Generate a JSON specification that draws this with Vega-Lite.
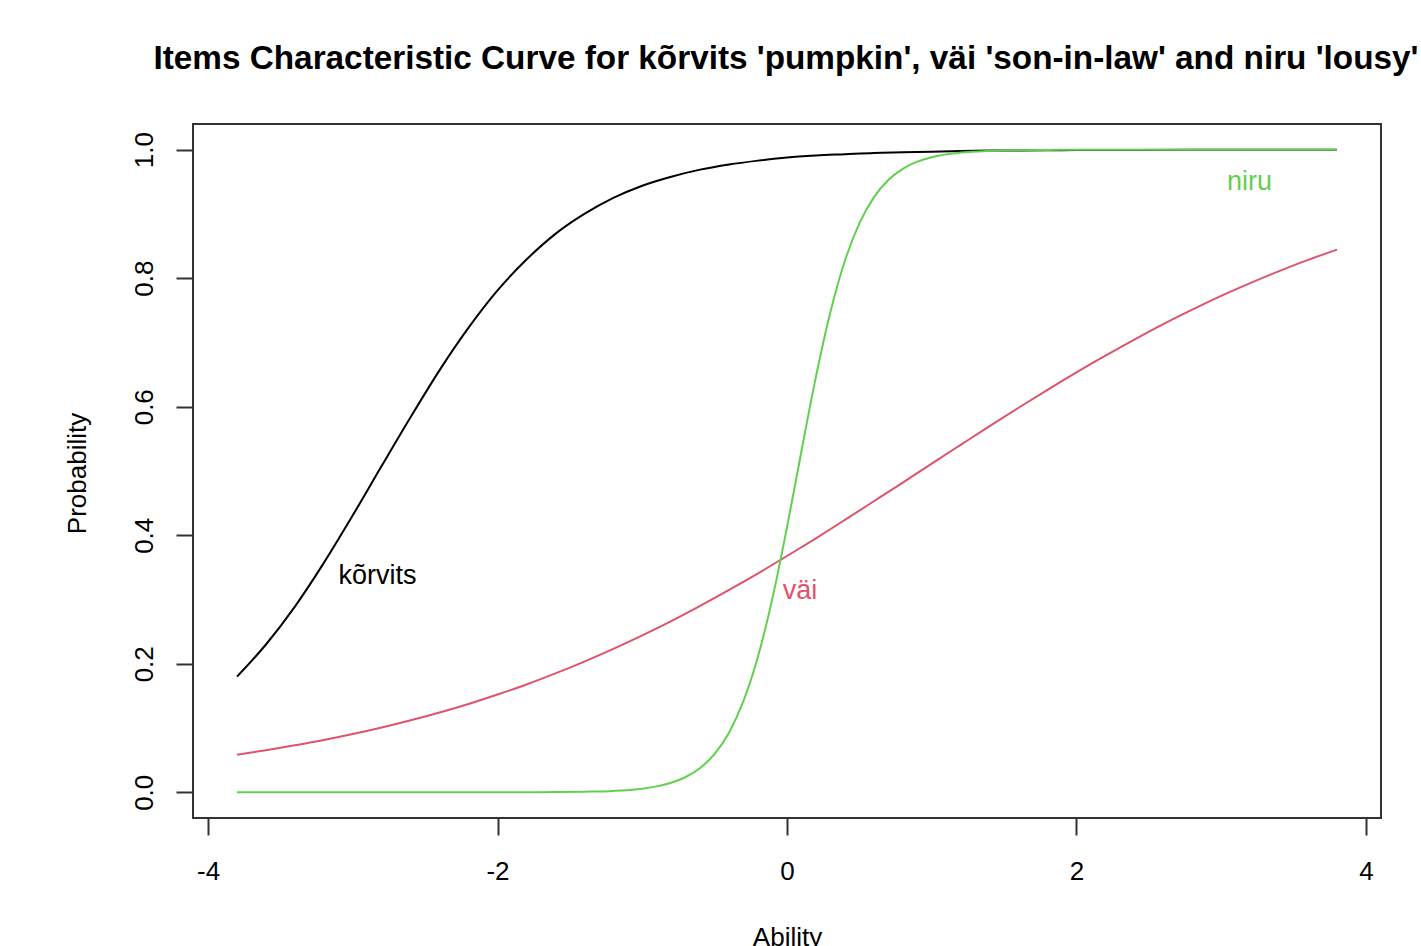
{
  "$schema": "https://vega.github.io/schema/vega-lite/v6.json",
  "width": 1188,
  "height": 694,
  "autosize": {"type": "none"},
  "padding": {"left": 193, "top": 124, "right": 40, "bottom": 128},
  "background": "white",
  "config": {
    "font": "Liberation Sans",
    "view": {"stroke": "#333333", "strokeWidth": 2},
    "title": {"fontSize": 33.3, "fontWeight": "bold", "color": "#000000", "anchor": "middle", "baseline": "alphabetic", "offset": 48, "dx": -1, "font": "Liberation Sans"}
  },
  "title": "Items Characteristic Curve for kõrvits 'pumpkin', väi 'son-in-law' and niru 'lousy'",
  "datasets": {
    "curves": [
      {"item": "kõrvits", "ability": -3.8, "p": 0.180},
      {"item": "kõrvits", "ability": -3.6, "p": 0.230},
      {"item": "kõrvits", "ability": -3.4, "p": 0.289},
      {"item": "kõrvits", "ability": -3.2, "p": 0.357},
      {"item": "kõrvits", "ability": -3.0, "p": 0.431},
      {"item": "kõrvits", "ability": -2.8, "p": 0.508},
      {"item": "kõrvits", "ability": -2.6, "p": 0.584},
      {"item": "kõrvits", "ability": -2.4, "p": 0.657},
      {"item": "kõrvits", "ability": -2.2, "p": 0.723},
      {"item": "kõrvits", "ability": -2.0, "p": 0.781},
      {"item": "kõrvits", "ability": -1.8, "p": 0.829},
      {"item": "kõrvits", "ability": -1.6, "p": 0.869},
      {"item": "kõrvits", "ability": -1.4, "p": 0.900},
      {"item": "kõrvits", "ability": -1.2, "p": 0.925},
      {"item": "kõrvits", "ability": -1.0, "p": 0.944},
      {"item": "kõrvits", "ability": -0.8, "p": 0.958},
      {"item": "kõrvits", "ability": -0.6, "p": 0.969},
      {"item": "kõrvits", "ability": -0.4, "p": 0.977},
      {"item": "kõrvits", "ability": -0.2, "p": 0.983},
      {"item": "kõrvits", "ability": 0.0, "p": 0.988},
      {"item": "kõrvits", "ability": 0.2, "p": 0.991},
      {"item": "kõrvits", "ability": 0.4, "p": 0.993},
      {"item": "kõrvits", "ability": 0.6, "p": 0.995},
      {"item": "kõrvits", "ability": 0.8, "p": 0.996},
      {"item": "kõrvits", "ability": 1.0, "p": 0.997},
      {"item": "kõrvits", "ability": 1.2, "p": 0.998},
      {"item": "kõrvits", "ability": 1.4, "p": 0.9986},
      {"item": "kõrvits", "ability": 1.6, "p": 0.9989},
      {"item": "kõrvits", "ability": 1.8, "p": 0.9992},
      {"item": "kõrvits", "ability": 2.0, "p": 0.9994},
      {"item": "kõrvits", "ability": 2.4, "p": 0.9997},
      {"item": "kõrvits", "ability": 2.8, "p": 0.9998},
      {"item": "kõrvits", "ability": 3.2, "p": 0.9999},
      {"item": "kõrvits", "ability": 3.8, "p": 1.0},
      {"item": "väi", "ability": -3.8, "p": 0.0586},
      {"item": "väi", "ability": -3.6, "p": 0.0655},
      {"item": "väi", "ability": -3.4, "p": 0.0731},
      {"item": "väi", "ability": -3.2, "p": 0.0814},
      {"item": "väi", "ability": -3.0, "p": 0.0906},
      {"item": "väi", "ability": -2.8, "p": 0.1008},
      {"item": "väi", "ability": -2.6, "p": 0.1120},
      {"item": "väi", "ability": -2.4, "p": 0.1242},
      {"item": "väi", "ability": -2.2, "p": 0.1375},
      {"item": "väi", "ability": -2.0, "p": 0.1521},
      {"item": "väi", "ability": -1.8, "p": 0.1678},
      {"item": "väi", "ability": -1.6, "p": 0.1850},
      {"item": "väi", "ability": -1.4, "p": 0.2034},
      {"item": "väi", "ability": -1.2, "p": 0.2231},
      {"item": "väi", "ability": -1.0, "p": 0.2441},
      {"item": "väi", "ability": -0.8, "p": 0.2664},
      {"item": "väi", "ability": -0.6, "p": 0.2901},
      {"item": "väi", "ability": -0.4, "p": 0.3149},
      {"item": "väi", "ability": -0.2, "p": 0.3407},
      {"item": "väi", "ability": 0.0, "p": 0.3677},
      {"item": "väi", "ability": 0.2, "p": 0.3953},
      {"item": "väi", "ability": 0.4, "p": 0.4239},
      {"item": "väi", "ability": 0.6, "p": 0.4529},
      {"item": "väi", "ability": 0.8, "p": 0.4820},
      {"item": "väi", "ability": 1.0, "p": 0.5115},
      {"item": "väi", "ability": 1.2, "p": 0.5407},
      {"item": "väi", "ability": 1.4, "p": 0.5698},
      {"item": "väi", "ability": 1.6, "p": 0.5984},
      {"item": "väi", "ability": 1.8, "p": 0.6262},
      {"item": "väi", "ability": 2.0, "p": 0.6534},
      {"item": "väi", "ability": 2.2, "p": 0.6794},
      {"item": "väi", "ability": 2.4, "p": 0.7045},
      {"item": "väi", "ability": 2.6, "p": 0.7285},
      {"item": "väi", "ability": 2.8, "p": 0.7510},
      {"item": "väi", "ability": 3.0, "p": 0.7724},
      {"item": "väi", "ability": 3.2, "p": 0.7923},
      {"item": "väi", "ability": 3.4, "p": 0.8111},
      {"item": "väi", "ability": 3.6, "p": 0.8285},
      {"item": "väi", "ability": 3.8, "p": 0.8445},
      {"item": "niru", "ability": -3.8, "p": 0.0},
      {"item": "niru", "ability": -3.0, "p": 0.0},
      {"item": "niru", "ability": -2.0, "p": 0.00005},
      {"item": "niru", "ability": -1.6, "p": 0.0003},
      {"item": "niru", "ability": -1.4, "p": 0.0009},
      {"item": "niru", "ability": -1.2, "p": 0.0022},
      {"item": "niru", "ability": -1.0, "p": 0.0057},
      {"item": "niru", "ability": -0.9, "p": 0.0092},
      {"item": "niru", "ability": -0.8, "p": 0.0148},
      {"item": "niru", "ability": -0.7, "p": 0.0238},
      {"item": "niru", "ability": -0.6, "p": 0.0379},
      {"item": "niru", "ability": -0.5, "p": 0.0598},
      {"item": "niru", "ability": -0.4, "p": 0.0932},
      {"item": "niru", "ability": -0.3, "p": 0.1425},
      {"item": "niru", "ability": -0.2, "p": 0.2117},
      {"item": "niru", "ability": -0.1, "p": 0.3026},
      {"item": "niru", "ability": 0.0, "p": 0.4122},
      {"item": "niru", "ability": 0.1, "p": 0.5312},
      {"item": "niru", "ability": 0.2, "p": 0.6468},
      {"item": "niru", "ability": 0.3, "p": 0.7474},
      {"item": "niru", "ability": 0.4, "p": 0.8271},
      {"item": "niru", "ability": 0.5, "p": 0.8854},
      {"item": "niru", "ability": 0.6, "p": 0.9259},
      {"item": "niru", "ability": 0.7, "p": 0.9529},
      {"item": "niru", "ability": 0.8, "p": 0.9703},
      {"item": "niru", "ability": 0.9, "p": 0.9814},
      {"item": "niru", "ability": 1.0, "p": 0.9884},
      {"item": "niru", "ability": 1.2, "p": 0.9955},
      {"item": "niru", "ability": 1.4, "p": 0.9983},
      {"item": "niru", "ability": 1.6, "p": 0.9993},
      {"item": "niru", "ability": 1.8, "p": 0.9997},
      {"item": "niru", "ability": 2.0, "p": 0.9999},
      {"item": "niru", "ability": 3.0, "p": 1.0},
      {"item": "niru", "ability": 3.8, "p": 1.0}
    ],
    "labels": [
      {"item": "kõrvits", "ability": -2.83, "p": 0.337},
      {"item": "väi", "ability": 0.09, "p": 0.313},
      {"item": "niru", "ability": 3.196, "p": 0.95}
    ]
  },
  "encoding": {
    "x": {
      "field": "ability", "type": "quantitative",
      "scale": {"domain": [-4.104, 4.104], "nice": false, "zero": false},
      "axis": {
        "values": [-4, -2, 0, 2, 4], "labelExpr": "replace(format(datum.value, 'd'), '\u2212', '-')", "grid": false, "domain": false,
        "tickSize": 17, "tickWidth": 2, "tickColor": "#333333",
        "labelFontSize": 26, "labelColor": "#000000", "labelPadding": 23, "labelFont": "Liberation Sans",
        "title": "Ability", "titleFontSize": 26, "titleFontWeight": "normal", "titleColor": "#000000", "titleFont": "Liberation Sans",
        "titleX": 594, "titleY": 127, "titleBaseline": "alphabetic", "titleAlign": "center"
      }
    },
    "y": {
      "field": "p", "type": "quantitative",
      "scale": {"domain": [-0.04, 1.04], "nice": false, "zero": false},
      "axis": {
        "values": [0, 0.2, 0.4, 0.6, 0.8, 1.0], "format": ".1f", "grid": false, "domain": false,
        "tickSize": 17, "tickWidth": 2, "tickColor": "#333333",
        "labelFontSize": 26, "labelColor": "#000000", "labelAngle": 270, "labelAlign": "center", "labelBaseline": "alphabetic", "labelPadding": 24, "labelFont": "Liberation Sans",
        "title": "Probability", "titleFontSize": 26, "titleFontWeight": "normal", "titleColor": "#000000", "titleFont": "Liberation Sans",
        "titleAngle": 270, "titleX": -108, "titleY": 349, "titleBaseline": "alphabetic", "titleAlign": "center"
      }
    },
    "color": {
      "field": "item", "type": "nominal",
      "scale": {"domain": ["kõrvits", "väi", "niru"], "range": ["#000000", "#DF536B", "#61D04F"]},
      "legend": null
    }
  },
  "layer": [
    {
      "data": {"name": "curves"},
      "mark": {"type": "line", "strokeWidth": 2, "interpolate": "monotone", "clip": true},
      "encoding": {"detail": {"field": "item"}}
    },
    {
      "data": {"name": "labels"},
      "mark": {"type": "text", "fontSize": 27, "align": "center", "baseline": "middle", "font": "Liberation Sans"},
      "encoding": {"text": {"field": "item"}}
    }
  ]
}
